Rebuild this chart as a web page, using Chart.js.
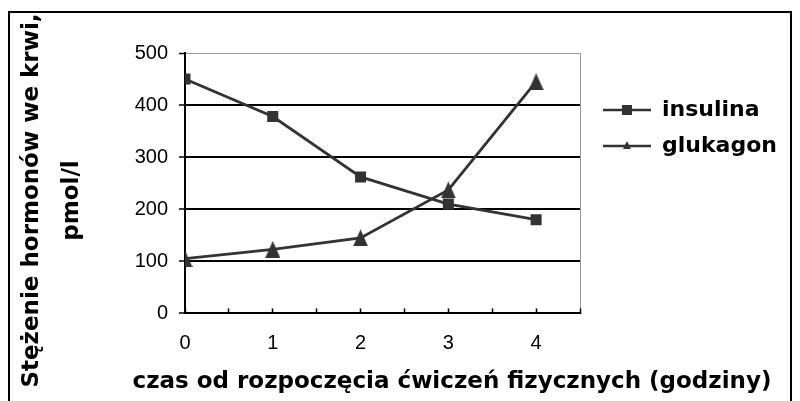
<!DOCTYPE html>
<html>
<head>
<meta charset="utf-8">
<script src="https://cdn.jsdelivr.net/npm/chart.js@4.4.1/dist/chart.umd.min.js"></script>
<style>
body { margin: 0; background: #fff; }
#wrap { position: relative; width: 800px; height: 401px; overflow: hidden; }
#frame { position: absolute; left: 8px; top: 11px; width: 780px; height: 420px; border: 2px solid #000; }
#chart { position: absolute; left: 0; top: 0; }
</style>
</head>
<body>
<div id="wrap"><div id="frame"></div><canvas id="chart" width="800" height="401"></canvas></div>
<script>
var hours = [0, 1, 2, 3, 4];
var insulina = [450, 378, 262, 210, 180];
var glukagon = [105, 123, 145, 237, 445];
var xTickLabels = ['0', '1', '2', '3', '4'];
var yAxisTitle = ['Stężenie hormonów we krwi,', 'pmol/l'];
var xAxisTitle = 'czas od rozpoczęcia ćwiczeń fizycznych (godziny)';

var ink = '#333';
var tickFont = { family: "'Liberation Sans', Arial, sans-serif", size: 20 };

function points(ys) {
    return hours.map(function (h, i) { return { x: h, y: ys[i] }; });
}

// small pictures: line + marker for the legend, tall triangle for the points
function legendIcon(marker) {
    var c = document.createElement('canvas');
    c.width = 48; c.height = 14;
    var g = c.getContext('2d');
    g.strokeStyle = ink; g.lineWidth = 2.5;
    g.beginPath(); g.moveTo(0, 7); g.lineTo(48, 7); g.stroke();
    g.fillStyle = ink;
    if (marker == 'rect') {
        g.fillRect(19, 2, 10, 10);
    } else {
        g.beginPath(); g.moveTo(24, 2); g.lineTo(28, 10); g.lineTo(20, 10); g.closePath(); g.fill();
    }
    return c;
}
function triangleMarker() {
    var c = document.createElement('canvas');
    c.width = 15; c.height = 17;
    var g = c.getContext('2d');
    g.fillStyle = ink;
    g.beginPath(); g.moveTo(7.5, 0); g.lineTo(15, 17); g.lineTo(0, 17); g.closePath(); g.fill();
    return c;
}
var icons = [legendIcon('rect'), legendIcon('triangle')];

// put legend and the two titles where the original has them
var nudge = {
    id: 'nudge',
    afterLayout: function (chart) {
        var lg = chart.legend;
        var dx = 589 - lg.left, dy = 85 - lg.top;
        lg.left += dx; lg.right += dx; lg.top += dy; lg.bottom += dy;
        var t = chart.titleBlock;
        t.left = 52; t.right = 852;
        chart.boxes.forEach(function (b) {
            if (b !== t && b.options && b.options.text !== undefined && b.options.position == 'left') {
                b.top = 0; b.bottom = 401;
            }
        });
    }
};

Chart.defaults.color = '#000';

var ctx = document.getElementById('chart');
var chart = new Chart(ctx, {
    type: 'line',
    data: {
        datasets: [
            {
                label: 'insulina',
                data: points(insulina),
                borderColor: ink,
                borderWidth: 2.8,
                backgroundColor: ink,
                pointStyle: 'rect',
                pointRadius: 7.8,
                pointBorderWidth: 0,
                clip: { left: 0, top: 20, right: 20, bottom: 20 }
            },
            {
                label: 'glukagon',
                data: points(glukagon),
                borderColor: ink,
                borderWidth: 2.8,
                backgroundColor: ink,
                pointStyle: triangleMarker(),
                pointRadius: 9,
                clip: { left: 0, top: 20, right: 20, bottom: 20 }
            }
        ]
    },
    options: {
        responsive: false,
        animation: false,
        layout: { padding: { top: 53, right: 220, bottom: 0, left: 0 } },
        plugins: {
            tooltip: { enabled: false },
            legend: {
                position: 'chartArea',
                align: 'start',
                labels: {
                    usePointStyle: true,
                    pointStyleWidth: 48,
                    padding: 14,
                    color: '#000',
                    font: { family: 'DejaVu Sans', weight: 'bold', size: 22 },
                    generateLabels: function (chart) {
                        var items = Chart.defaults.plugins.legend.labels.generateLabels(chart);
                        items.forEach(function (it, i) { it.pointStyle = icons[i]; });
                        return items;
                    }
                }
            },
            title: {
                display: true,
                position: 'bottom',
                text: xAxisTitle,
                color: '#000',
                font: { family: 'DejaVu Sans', weight: 'bold', size: 23, lineHeight: 1.2 },
                padding: { top: 6, bottom: 5 }
            },
            subtitle: {
                display: true,
                position: 'left',
                text: yAxisTitle,
                color: '#000',
                font: { family: 'DejaVu Sans', weight: 'bold', size: 23, lineHeight: 40 / 23 },
                padding: { top: 12, bottom: 8 }
            }
        },
        scales: {
            x: {
                type: 'linear',
                min: 0,
                max: 4.5,
                afterFit: function (scale) { scale.height = 49; },
                ticks: {
                    stepSize: 0.5,
                    autoSkip: false,
                    maxRotation: 0,
                    padding: 23,
                    font: tickFont,
                    color: '#000',
                    callback: function (v) {
                        return xTickLabels.indexOf(String(v)) >= 0 ? String(v) : '';
                    }
                },
                grid: {
                    color: function (c) { return c.tick && c.tick.value == 4.5 ? '#999' : 'rgba(0,0,0,0)'; },
                    lineWidth: 1,
                    tickColor: '#000',
                    tickWidth: 1.5,
                    tickLength: -5
                },
                border: { color: '#000', width: 2 }
            },
            y: {
                min: 0,
                max: 500,
                afterFit: function (scale) { scale.width = 85; },
                ticks: { stepSize: 100, padding: 11, font: tickFont, color: '#000' },
                grid: {
                    color: function (c) { return c.tick && c.tick.value == 500 ? '#999' : '#000'; },
                    lineWidth: function (c) { return c.tick && c.tick.value == 500 ? 1 : 2; },
                    tickColor: '#000',
                    tickWidth: 1.5,
                    tickLength: 6
                },
                border: { color: '#000', width: 2 }
            }
        }
    },
    plugins: [nudge]
});
</script>
</body>
</html>
